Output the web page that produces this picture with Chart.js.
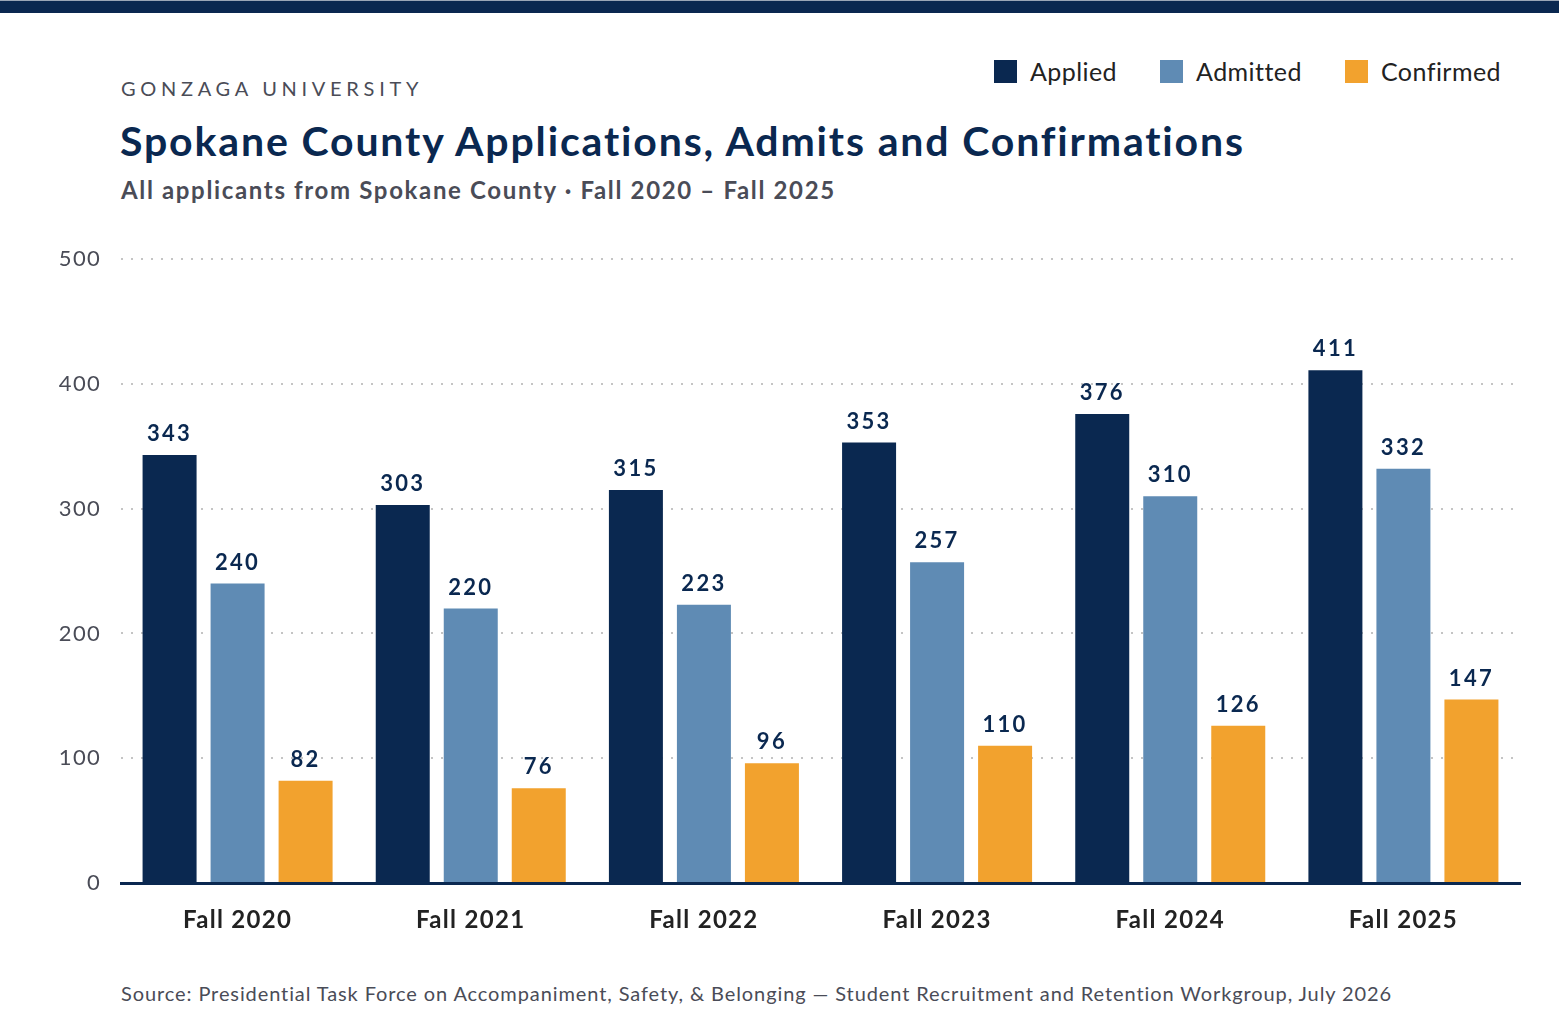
<!DOCTYPE html>
<html>
<head>
<meta charset="utf-8">
<script src="https://cdn.jsdelivr.net/npm/chart.js@4"></script>
<style>
  html,body{margin:0;padding:0;background:#fff;width:1559px;height:1032px;overflow:hidden;font-family:Lato,"Open Sans",sans-serif;}
  #topbar{position:absolute;left:0;top:0;width:1559px;height:13px;background:#0a2850;border-top:1px solid #9aa6b6;box-sizing:border-box;}
  #org{position:absolute;left:121px;top:76px;font-size:20px;letter-spacing:4.7px;color:#4a4c57;font-weight:400;}
  #title{position:absolute;left:120px;top:116px;font-size:41px;font-weight:700;letter-spacing:1.85px;color:#0a2850;white-space:nowrap;}
  #subtitle{position:absolute;left:121px;top:175px;font-size:24px;font-weight:700;letter-spacing:1.65px;color:#4a4c57;white-space:nowrap;}
  #legend{position:absolute;right:58px;top:56px;display:flex;gap:0;font-size:25px;letter-spacing:0.45px;color:#222;}
  .li{display:flex;align-items:center;margin-left:43px;}
  .sw{width:23px;height:23px;margin-right:13px;}
  #source{position:absolute;left:121px;top:981px;font-size:20px;letter-spacing:0.9px;color:#4a4c57;white-space:nowrap;}
  #wrap{position:absolute;left:0;top:226px;width:1559px;height:704px;}
</style>
</head>
<body>
<div id="topbar"></div>
<div id="org">GONZAGA UNIVERSITY</div>
<div id="title">Spokane County Applications, Admits and Confirmations</div>
<div id="subtitle">All applicants from Spokane County · Fall 2020 – Fall 2025</div>
<div id="legend"></div>
<div id="wrap"><canvas id="c"></canvas></div>
<div id="source">Source: Presidential Task Force on Accompaniment, Safety, &amp; Belonging — Student Recruitment and Retention Workgroup, July 2026</div>
<script>
const categories = ["Fall 2020","Fall 2021","Fall 2022","Fall 2023","Fall 2024","Fall 2025"];
const applied   = [343,303,315,353,376,411];
const admitted  = [240,220,223,257,310,332];
const confirmed = [82,76,96,110,126,147];
const seriesNames = ["Applied","Admitted","Confirmed"];
const seriesColors = ["#0a2850","#5f8bb4","#f2a22e"];
const yTicks = [0,100,200,300,400,500];

const legend = document.getElementById('legend');
seriesNames.forEach((n,i)=>{
  const d=document.createElement('div');d.className='li';
  d.innerHTML='<span class="sw" style="background:'+seriesColors[i]+'"></span><span>'+n+'</span>';
  legend.appendChild(d);
});

const spacing = {
  id:'spacing',
  beforeDraw(chart){ chart.ctx.letterSpacing='1.3px'; }
};

const valueLabels = {
  id:'valueLabels',
  afterDatasetsDraw(chart){
    const ctx=chart.ctx;
    ctx.save();
    ctx.letterSpacing='2.3px';
    ctx.font='700 22px Lato, "Open Sans", sans-serif';
    ctx.fillStyle='#0a2850';
    ctx.textAlign='center';
    ctx.textBaseline='bottom';
    chart.data.datasets.forEach((ds,di)=>{
      chart.getDatasetMeta(di).data.forEach((bar,i)=>{
        ctx.fillText(String(ds.data[i]), bar.x, bar.y-10);
      });
    });
    ctx.restore();
  }
};

new Chart(document.getElementById('c'),{
  type:'bar',
  data:{
    labels:categories,
    datasets:[
      {label:seriesNames[0],data:applied,backgroundColor:seriesColors[0]},
      {label:seriesNames[1],data:admitted,backgroundColor:seriesColors[1]},
      {label:seriesNames[2],data:confirmed,backgroundColor:seriesColors[2]}
    ]
  },
  options:{
    responsive:true,maintainAspectRatio:false,animation:false,
    categoryPercentage:0.875,barPercentage:0.794,
    layout:{padding:{top:24,right:39,left:0,bottom:0}},
    plugins:{legend:{display:false},tooltip:{enabled:false}},
    scales:{
      x:{
        grid:{display:false,drawTicks:false},
        border:{display:true,color:'#0a2850',width:3,z:1},
        ticks:{color:'#222',font:{family:'Lato, "Open Sans", sans-serif',size:24,weight:'700'},padding:23},
        afterFit(s){s.height=47;}
      },
      y:{
        min:0,max:500,
        afterBuildTicks(s){s.ticks=yTicks.map(v=>({value:v}));},
        grid:{color:'#c4c4c4',lineWidth:2,drawTicks:false},
        border:{display:false,dash:[2,8]},
        ticks:{color:'#4a4c57',font:{family:'Lato, "Open Sans", sans-serif',size:22},padding:20},
        afterFit(s){s.width=121;}
      }
    }
  },
  plugins:[spacing,valueLabels]
});
</script>
</body>
</html>
